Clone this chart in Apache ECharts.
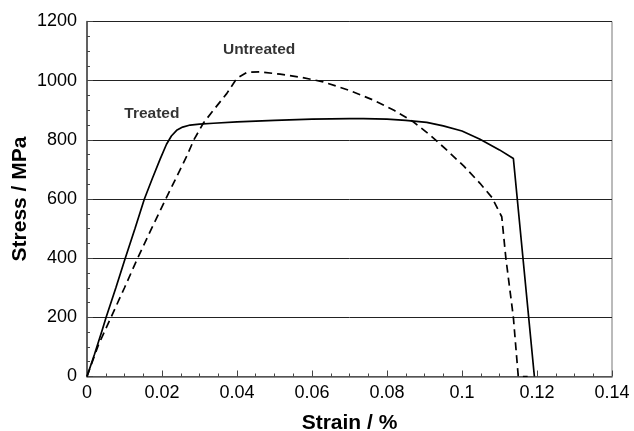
<!DOCTYPE html>
<html>
<head>
<meta charset="utf-8">
<script src="https://cdn.jsdelivr.net/npm/echarts@6/dist/echarts.min.js"></script>
<style>
  html, body { margin: 0; padding: 0; background: #fff; }
  #chart { width: 634px; height: 431px; }
</style>
</head>
<body>
<div id="chart"></div>
<script>
'use strict';

// strain (%) / stress (MPa)
var treatedStrain = [0, 0.002, 0.004, 0.0051, 0.0077, 0.0102, 0.0128, 0.0153, 0.0175, 0.0195, 0.0212, 0.0225, 0.0239, 0.0255, 0.0275, 0.03, 0.0337, 0.04, 0.05, 0.06, 0.07, 0.0737, 0.08, 0.085, 0.0906, 0.095, 0.1, 0.1048, 0.11, 0.1137, 0.1193];
var treatedStress = [0, 75, 155, 200, 300, 400, 500, 600, 672, 735, 785, 813, 832, 843, 850, 853, 856, 861, 866, 870, 872, 872, 870, 866, 859, 847, 830, 802, 766, 737, 0];

var untreatedStrain = [0, 0.003, 0.0064, 0.01, 0.0135, 0.0172, 0.021, 0.0266, 0.0285, 0.031, 0.0337, 0.0373, 0.0399, 0.0426, 0.0461, 0.0515, 0.0568, 0.063, 0.07, 0.0764, 0.082, 0.087, 0.0915, 0.0959, 0.1005, 0.1048, 0.108, 0.1101, 0.1106, 0.1117, 0.1137, 0.115, 0.1175];
var untreatedStress = [0, 105, 200, 300, 400, 500, 600, 745, 800, 856, 900, 957, 1007, 1028, 1030, 1022, 1012, 996, 967, 934, 899, 861, 816, 766, 711, 653, 605, 552, 540, 400, 200, 0, 0];

var curveNames = ['Treated', 'Untreated'];
var labelPos = [[0.0173, 889], [0.0459, 1103]];

function pairs(xs, ys) {
  return xs.map(function (x, i) { return [x, ys[i]]; });
}

var font = '"Liberation Sans", Arial, sans-serif';
var chart = echarts.init(document.getElementById('chart'));

chart.setOption({
  animation: false,
  grid: {
    left: 87, right: 22, top: 21.5, bottom: 54.5,
    containLabel: false, outerBoundsMode: 'none',
    show: true, borderColor: '#777', borderWidth: 1
  },
  xAxis: {
    type: 'value', min: 0, max: 0.14, interval: 0.02,
    name: 'Strain / %', nameLocation: 'middle', nameGap: 36,
    nameTextStyle: { fontFamily: font, fontWeight: 'bold', fontSize: 21, color: '#000' },
    axisLine: { lineStyle: { color: '#666', width: 1.5 } },
    axisTick: { inside: true, length: 6, lineStyle: { color: '#444' } },
    minorTick: { show: true, splitNumber: 4, length: 3, lineStyle: { color: '#444' } },
    axisLabel: { fontFamily: font, fontSize: 18, color: '#000', margin: 8 },
    splitLine: { show: false }
  },
  yAxis: {
    type: 'value', min: 0, max: 1200, interval: 200,
    name: 'Stress / MPa', nameLocation: 'middle', nameGap: 56, nameMoveOverlap: false,
    nameTextStyle: { fontFamily: font, fontWeight: 'bold', fontSize: 21, color: '#000' },
    axisLine: { show: true, lineStyle: { color: '#444', width: 1.5 } },
    axisTick: { inside: true, length: 6, lineStyle: { color: '#444' } },
    minorTick: { show: true, splitNumber: 4, length: 3, lineStyle: { color: '#444' } },
    axisLabel: {
      fontFamily: font, fontSize: 18, color: '#000', margin: 10,
      formatter: function (v) { return String(v); }
    },
    splitLine: { show: true, lineStyle: { color: '#222', width: 1 } }
  },
  series: [
    {
      name: curveNames[0], type: 'line', showSymbol: false, symbol: 'none',
      data: pairs(treatedStrain, treatedStress),
      lineStyle: { color: '#000', width: 1.7 }
    },
    {
      name: curveNames[1], type: 'line', showSymbol: false, symbol: 'none',
      data: pairs(untreatedStrain, untreatedStress),
      lineStyle: { color: '#000', width: 1.7, type: [8, 5] }
    },
    {
      type: 'scatter', symbolSize: 0, silent: true,
      itemStyle: { color: '#000' },
      data: labelPos.map(function (p, i) { return { value: p, name: curveNames[i] }; }),
      label: {
        show: true, position: 'inside', formatter: '{b}',
        fontFamily: font, fontWeight: 'bold', fontSize: 15.5, color: '#000',
        textBorderWidth: 0
      }
    }
  ]
});
</script>
</body>
</html>
